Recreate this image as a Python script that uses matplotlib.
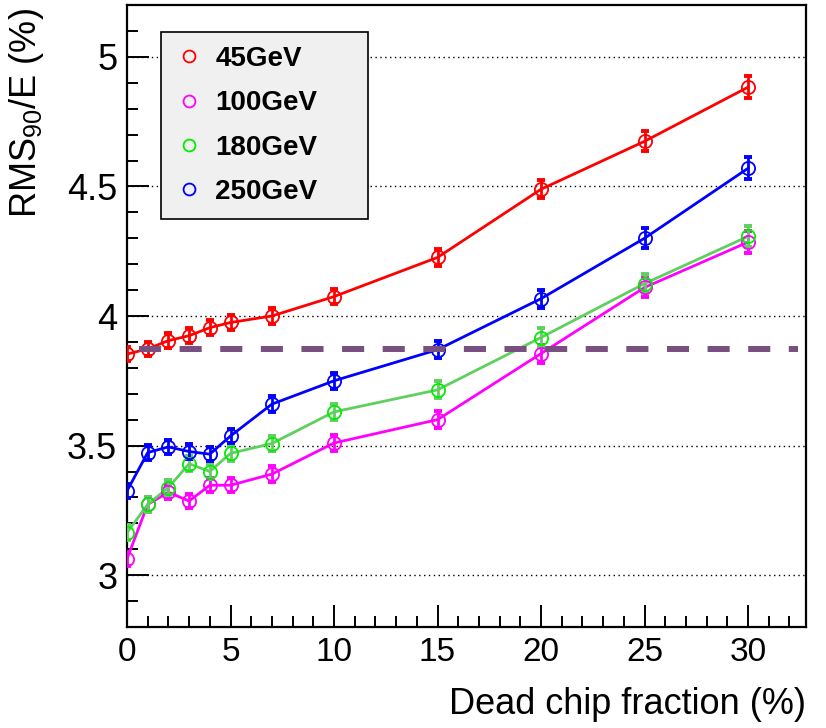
import matplotlib
matplotlib.use("Agg")
import matplotlib.pyplot as plt
from matplotlib.ticker import MultipleLocator, FuncFormatter

plt.rcParams['font.family'] = ['Liberation Sans', 'DejaVu Sans']
plt.rcParams['mathtext.fontset'] = 'custom'
plt.rcParams['mathtext.rm'] = 'Liberation Sans'
plt.rcParams['mathtext.it'] = 'Liberation Sans:italic'
plt.rcParams['mathtext.bf'] = 'Liberation Sans:bold'

fraction = [0, 1, 2, 3, 4, 5, 7, 10, 15, 20, 25, 30]
rms_45 = [3.853, 3.873, 3.905, 3.924, 3.955, 3.975, 4.0, 4.075, 4.226, 4.489, 4.674, 4.883]
rms_100 = [3.063, 3.273, 3.32, 3.286, 3.347, 3.347, 3.39, 3.51, 3.60, 3.855, 4.11, 4.285]
rms_180 = [3.164, 3.273, 3.338, 3.43, 3.40, 3.47, 3.508, 3.63, 3.715, 3.917, 4.125, 4.307]
rms_250 = [3.325, 3.473, 3.495, 3.477, 3.467, 3.537, 3.66, 3.75, 3.87, 4.067, 4.30, 4.57]
err = [0.028, 0.028, 0.028, 0.028, 0.028, 0.028, 0.03, 0.03, 0.033, 0.035, 0.038, 0.042]
labels = ["45GeV", "100GeV", "180GeV", "250GeV"]
ref_level = 3.874
ref_x = [0.6, 32.4]

series = [rms_45, rms_100, rms_180, rms_250]
line_colors = ['#ff0000', '#ff00ff', '#5fcf5f', '#0000ff']
marker_colors = ['#ff0000', '#ff00ff', '#00ee00', '#0000ff']

fig = plt.figure(figsize=(8.26, 7.28), dpi=100)
ax = fig.add_axes([127/826, 1-627/728, (806-127)/826, (627-5)/728])

for y in [3.0, 3.5, 4.0, 4.5, 5.0]:
    ax.axhline(y, color='black', lw=1.0, ls=(0, (1, 2.5)), zorder=1)

handles = []
for ys, lc, mc, lab in zip(series, line_colors, marker_colors, labels):
    ax.plot(fraction, ys, color=lc, lw=2, zorder=3)
    ax.errorbar(fraction, ys, yerr=err, fmt='none', ecolor=lc, elinewidth=2,
                capsize=2.6, capthick=2.8, zorder=3)
    h, = ax.plot(fraction, ys, ls='none', marker='o', ms=9.5, mfc='none',
                 mec=mc, mew=1.3, zorder=4, label=lab)
    handles.append(h)

ax.plot(ref_x, [ref_level, ref_level], color='#775080', lw=4.3,
        dashes=(3.7, 3.1), zorder=5)

ax.set_xlim(0, 32.8)
ax.set_ylim(2.8, 5.2)
ax.xaxis.set_major_locator(MultipleLocator(5))
ax.xaxis.set_minor_locator(MultipleLocator(1))
ax.yaxis.set_major_locator(MultipleLocator(0.5))
ax.yaxis.set_minor_locator(MultipleLocator(0.1))
ax.tick_params(which='both', direction='in', top=False, right=False, width=1.4)
ax.tick_params(which='major', length=15.5)
ax.tick_params(which='minor', length=8)
ax.tick_params(axis='x', pad=7, labelsize=24)
ax.tick_params(axis='y', pad=7, labelsize=26)
ax.yaxis.set_major_formatter(FuncFormatter(lambda v, p: f"{v:g}"))
for s in ax.spines.values():
    s.set_linewidth(1.6)

fig.text(806/826, 1-722/728, "Dead chip fraction (%)", ha='right', va='bottom', fontsize=26)
fig.text(7/826, 1-8/728, r"RMS$_{90}$/E (%)", ha='left', va='top', rotation=90, fontsize=26)

x0 = (161-127)/679
w = (368-161)/679
top = 1-(32-5)/622
leg = ax.legend(handles=handles, loc='upper left', bbox_to_anchor=(x0, top-0.4, w, 0.4),
                mode='expand', prop={'weight': 'bold', 'size': 20}, frameon=True,
                fancybox=False, edgecolor='black', facecolor='#f0f0f0', framealpha=1,
                handlelength=1.0, handletextpad=0.45, labelspacing=0.66,
                borderpad=0.5, borderaxespad=0, markerscale=0.9)
leg.get_frame().set_linewidth(1.2)
leg.set_zorder(6)

fig.savefig("out.png", dpi=100)
